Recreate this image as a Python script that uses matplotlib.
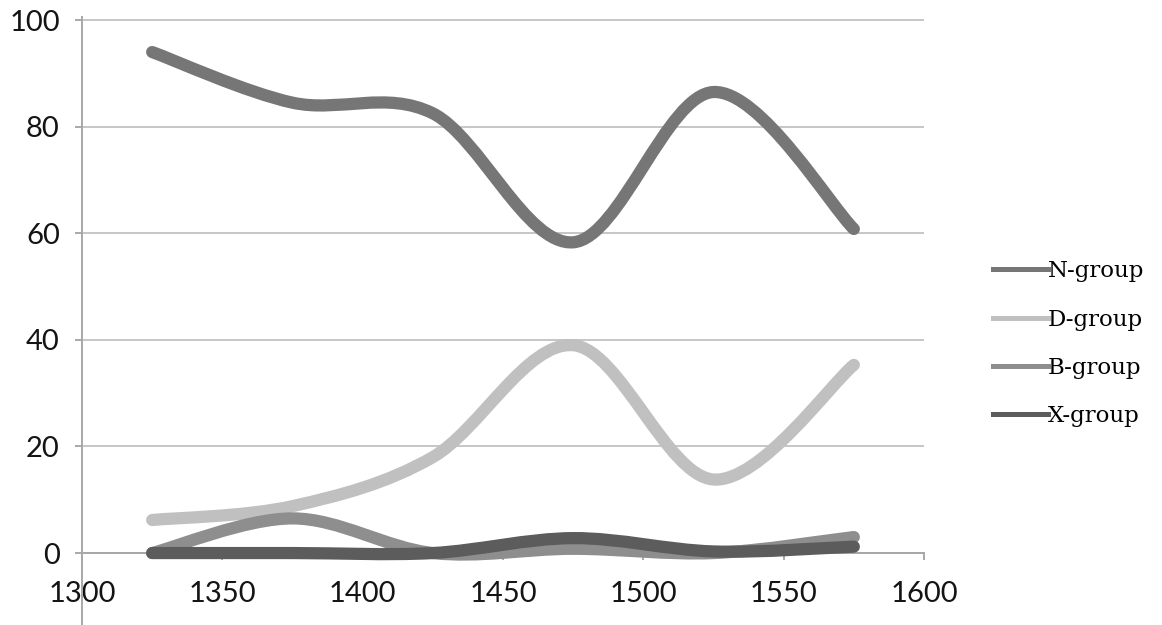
import numpy as np
import matplotlib
matplotlib.use("Agg")
import matplotlib.pyplot as plt
from matplotlib.path import Path
from matplotlib.patches import PathPatch
from matplotlib.lines import Line2D

# values
years = [1325, 1375, 1425, 1475, 1525, 1575]
n_group = [94.0, 84.5, 82.5, 58.3, 86.5, 60.8]
d_group = [6.2, 8.8, 18.0, 39.0, 13.8, 35.3]
b_group = [0.0, 6.5, 0.0, 0.8, 0.0, 3.0]
x_group = [0.0, 0.0, 0.0, 2.8, 0.3, 1.2]

labels = ["N-group", "D-group", "B-group", "X-group"]
colors = ["#767676", "#c0c0c0", "#8e8e8e", "#5c5c5c"]

x_ticks = [1300, 1350, 1400, 1450, 1500, 1550, 1600]
y_ticks = [0, 20, 40, 60, 80, 100]


def smooth_path(xs, ys):
    """Spreadsheet-style smoothed line: cubic Bezier through every point."""
    pts = np.column_stack([xs, ys]).astype(float)
    n = len(pts)
    verts = [pts[0]]
    codes = [Path.MOVETO]
    for i in range(n - 1):
        p_prev = pts[i - 1] if i > 0 else pts[i]
        p_next = pts[i + 2] if i + 2 < n else pts[i + 1]
        c1 = pts[i] + (pts[i + 1] - p_prev) / 6.0
        c2 = pts[i + 1] - (p_next - pts[i]) / 6.0
        verts += [c1, c2, pts[i + 1]]
        codes += [Path.CURVE4] * 3
    return Path(verts, codes)


fig = plt.figure(figsize=(11.62, 6.25), dpi=100)
ax = fig.add_axes([82 / 1162, 0.0, 842 / 1162, 607.6 / 625])

for ys, col in zip([n_group, d_group, b_group, x_group], colors):
    patch = PathPatch(smooth_path(years, ys), facecolor="none", edgecolor=col,
                      lw=8.8, capstyle="round", joinstyle="round", zorder=3)
    ax.add_patch(patch)

ax.set_xlim(1300, 1600)
ax.set_ylim(-13.5, 100.5)
ax.set_xticks(x_ticks)
ax.set_yticks(y_ticks)

axis_col = "#a8a8a8"
ax.yaxis.grid(True, color="#c6c6c6", lw=1.4)
ax.set_axisbelow(True)
for side in ["top", "right"]:
    ax.spines[side].set_visible(False)
ax.spines["left"].set_color(axis_col)
ax.spines["left"].set_linewidth(1.4)
ax.spines["bottom"].set_position(("data", 0))
ax.spines["bottom"].set_color(axis_col)
ax.spines["bottom"].set_linewidth(1.4)

ax.tick_params(axis="both", direction="out", length=5, width=1.4, color=axis_col,
               labelcolor="#141414")
ax.tick_params(axis="x", pad=15)
ax.tick_params(axis="y", pad=11)
for lab in ax.get_xticklabels() + ax.get_yticklabels():
    lab.set_fontfamily("Lato")
    lab.set_fontsize(21)

handles = [Line2D([], [], color=c, lw=3.6) for c in colors]
fig.legend(handles, labels, loc="center left", bbox_to_anchor=(993 / 1162, 0.45),
           frameon=False, borderpad=0, borderaxespad=0, handlelength=2.4,
           handletextpad=0.0, labelspacing=1.15,
           prop={"family": "DejaVu Serif", "size": 16.5})

fig.savefig("out.png", dpi=100)
